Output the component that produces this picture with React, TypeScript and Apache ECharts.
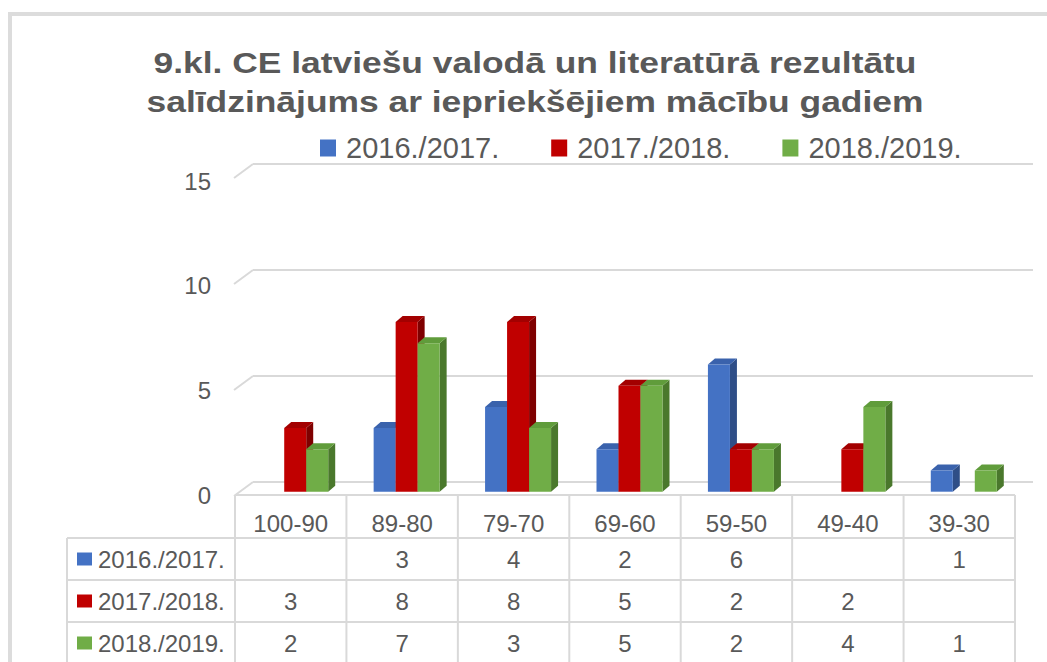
import React, { useEffect, useRef } from 'react';
import * as echarts from 'echarts';

const TITLE = '9.kl. CE latviešu valodā un literatūrā rezultātu\nsalīdzinājums ar iepriekšējiem mācību gadiem';
const categories = ['100-90', '89-80', '79-70', '69-60', '59-50', '49-40', '39-30'];
const seriesNames = ['2016./2017.', '2017./2018.', '2018./2019.'];
const values2016: (number | null)[] = [null, 3, 4, 2, 6, null, 1];
const values2017: (number | null)[] = [3, 8, 8, 5, 2, 2, null];
const values2018: (number | null)[] = [2, 7, 3, 5, 2, 4, 1];
const yTicks = [0, 5, 10, 15];
const Y_MAX = 15;
const Y_STEP = 5;

const seriesValues = [values2016, values2017, values2018];
const FRONT = ['#4472C4', '#C00000', '#70AD47'];
const TOP = ['#3A62AC', '#A30000', '#609C3B'];
const SIDE = ['#2F4E87', '#7F0000', '#4A782C'];

const FONT = '"Liberation Sans", Arial, sans-serif';
const TXT = '#595959';
const LINE = '#d9d9d9';

// layout (back wall plane)
const G_LEFT = 253;
const G_RIGHT = 14;
const G_TOP = 164;
const G_BOTTOM = 180;
const W = 1047;
const H = 662;
// bar front plane offset relative to back wall
const DX = -13.5;
const DY = 9.7;
const BW = 22;
const SX = 7;
const SY = 6;

function buildTable(): any[] {
  const els: any[] = [];
  const x0 = G_LEFT - 18;
  const colW = (W - G_RIGHT - G_LEFT) / categories.length;
  const x1 = x0 + colW * categories.length;
  const labX = 67;
  const rows = [495, 538, 580, 622, 664];
  const line = (ax: number, ay: number, bx: number, by: number) => ({
    type: 'line',
    silent: true,
    shape: { x1: ax, y1: ay, x2: bx, y2: by },
    style: { stroke: LINE, lineWidth: 2 },
  });
  els.push(line(x0, rows[0], x1, rows[0]));
  for (let r = 1; r < rows.length; r++) els.push(line(labX, rows[r], x1, rows[r]));
  for (let i = 0; i <= categories.length; i++) {
    const x = x0 + i * colW;
    els.push(line(x, rows[0], x, rows[rows.length - 1]));
  }
  els.push(line(labX, rows[1], labX, rows[rows.length - 1]));
  categories.forEach((c, i) => {
    els.push({
      type: 'text',
      silent: true,
      style: {
        x: x0 + (i + 0.5) * colW,
        y: 523,
        text: c,
        align: 'center',
        verticalAlign: 'middle',
        fill: TXT,
        font: `24px ${FONT}`,
      },
    });
  });
  seriesNames.forEach((name, si) => {
    const cy = (rows[si + 1] + rows[si + 2]) / 2;
    els.push({
      type: 'rect',
      silent: true,
      shape: { x: 77, y: cy - 6.5, width: 15, height: 13 },
      style: { fill: FRONT[si] },
    });
    els.push({
      type: 'text',
      silent: true,
      style: {
        x: 98,
        y: cy,
        text: name,
        align: 'left',
        verticalAlign: 'middle',
        fill: TXT,
        font: `24px ${FONT}`,
      },
    });
    seriesValues[si].forEach((v, i) => {
      if (v == null) return;
      els.push({
        type: 'text',
        silent: true,
        style: {
          x: x0 + (i + 0.5) * colW,
          y: cy,
          text: String(v),
          align: 'center',
          verticalAlign: 'middle',
          fill: TXT,
          font: `24px ${FONT}`,
        },
      });
    });
  });
  return els;
}

export default function App() {
  const ref = useRef<HTMLDivElement>(null);
  useEffect(() => {
    if (!ref.current) return;
    const chart = echarts.init(ref.current, null, { renderer: 'svg' });

    const barSeries = seriesValues.map((vals, si) => ({
      type: 'custom',
      name: seriesNames[si],
      xAxisIndex: 0,
      yAxisIndex: 0,
      itemStyle: { color: FRONT[si] },
      data: vals.map((v, i) => (v == null ? null : [i, v])).filter((d) => d !== null),
      renderItem: (params: any, api: any) => {
        const ci = api.value(0);
        const v = api.value(1);
        const base = api.coord([ci, 0]);
        const topP = api.coord([ci, v]);
        const xa = base[0] + DX + (si - 1.5) * BW;
        const xb = xa + BW;
        const yb = base[1] + DY;
        const yt = topP[1] + DY;
        return {
          type: 'group',
          children: [
            {
              type: 'polygon',
              shape: { points: [[xb, yb], [xb, yt], [xb + SX, yt - SY], [xb + SX, yb - SY]] },
              style: { fill: SIDE[si] },
            },
            {
              type: 'polygon',
              shape: { points: [[xa, yt], [xb, yt], [xb + SX, yt - SY], [xa + SX, yt - SY]] },
              style: { fill: TOP[si] },
            },
            {
              type: 'rect',
              shape: { x: xa, y: yt, width: BW, height: yb - yt },
              style: { fill: FRONT[si] },
            },
          ],
        };
      },
    }));

    const decor = {
      type: 'custom',
      name: 'decor',
      silent: true,
      xAxisIndex: 0,
      yAxisIndex: 0,
      z: 1,
      data: yTicks.map((v) => [0, v]),
      renderItem: (params: any, api: any) => {
        const c = api.coord([0, api.value(1)]);
        const x = params.coordSys.x;
        return {
          type: 'line',
          shape: { x1: x - 19, y1: c[1] + 14, x2: x, y2: c[1] },
          style: { stroke: LINE, lineWidth: 2 },
        };
      },
    };

    chart.setOption({
      animation: false,
      backgroundColor: '#ffffff',
      legend: {
        data: seriesNames,
        left: 320,
        top: 133,
        padding: 0,
        icon: 'rect',
        itemWidth: 16,
        itemHeight: 17,
        itemGap: 52,
        selectedMode: false,
        textStyle: {
          fontFamily: FONT,
          fontSize: 29,
          color: TXT,
          lineHeight: 30,
          padding: [0, 0, 0, 5],
        },
      },
      grid: [
        { left: G_LEFT, right: G_RIGHT, top: G_TOP, bottom: G_BOTTOM },
        { left: 234, right: 33, top: 181, bottom: 166.5 },
      ],
      xAxis: [
        { type: 'category', data: categories, gridIndex: 0, show: false },
        { type: 'category', data: categories, gridIndex: 1, show: false },
      ],
      yAxis: [
        {
          type: 'value',
          gridIndex: 0,
          min: 0,
          max: Y_MAX,
          interval: Y_STEP,
          axisLabel: { show: false },
          axisLine: { show: false },
          axisTick: { show: false },
          splitLine: { lineStyle: { color: LINE, width: 2 } },
        },
        {
          type: 'value',
          gridIndex: 1,
          min: 0,
          max: Y_MAX,
          interval: Y_STEP,
          axisLabel: { fontFamily: FONT, fontSize: 24, color: TXT, margin: 23 },
          axisLine: { show: false },
          axisTick: { show: false },
          splitLine: { show: false },
        },
      ],
      graphic: [
        {
          type: 'rect',
          silent: true,
          z: -10,
          shape: { x: 10, y: 14, width: 1200, height: 800 },
          style: { fill: 'none', stroke: '#dcdcdc', lineWidth: 4 },
        },
        {
          type: 'text',
          silent: true,
          x: 535,
          y: 81.5,
          scaleX: 1.18,
          style: {
            text: TITLE,
            x: 0,
            y: 0,
            align: 'center',
            verticalAlign: 'middle',
            fill: TXT,
            font: `bold 30px ${FONT}`,
            lineHeight: 39,
          },
        },
        ...buildTable(),
      ],
      series: [decor, ...barSeries],
    });
    return () => chart.dispose();
  }, []);
  return (
    <div
      ref={ref}
      style={{ position: 'absolute', left: 0, top: 0, width: W, height: H }}
    />
  );
}
